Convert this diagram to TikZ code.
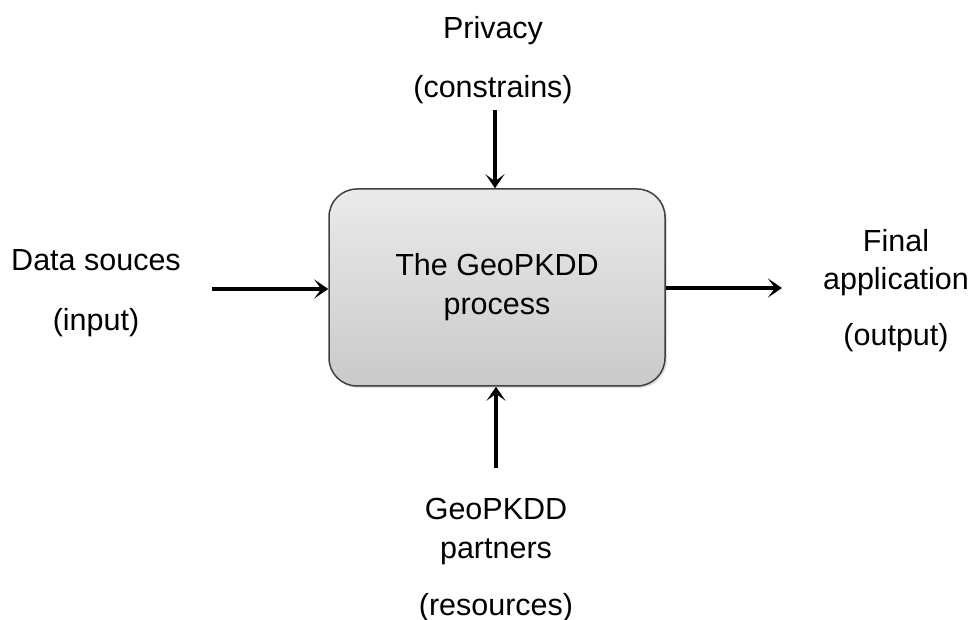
\documentclass[tikz,border=0pt]{standalone}
\usepackage{fontspec}
\setmainfont{Liberation Sans}
\usepackage{xcolor}
\usepackage{tikz}
\usetikzlibrary{arrows.meta, positioning, shadows}
\tikzstyle{process} = [rectangle, rounded corners=28pt, minimum width=336pt, minimum height=197pt, align=center, draw=black!75, line width=1.5pt, top color=gray!16, bottom color=gray!42, drop shadow={opacity=0.25, shadow xshift=2pt, shadow yshift=-2pt}]
\tikzstyle{label} = [align=center, anchor=base]
\tikzstyle{flow} = [line width=3.5pt, -{Stealth[length=14pt, width=19pt, inset=7pt]}]

\begin{document}
\begin{tikzpicture}[x=1pt, y=-1pt, font=\fontsize{30.5}{39}\selectfont]
    \useasboundingbox (0,0) rectangle (975,620);
    \node (box) [process] at (497,287.5) {The GeoPKDD\\process};
    \node (privacy) [label] at (493,98) {Privacy\\[20pt](constrains)};
    \node (input) [label] at (96,331) {Data souces\\[21pt](input)};
    \node (output) [label] at (896,346) {Final\\application\\[17pt](output)};
    \node (partners) [label] at (496,615) {GeoPKDD\\partners\\[18pt](resources)};
    \coordinate (inTail) at (212,289);
    \coordinate (outTip) at (782,288);
    \coordinate (topTail) at (495,110);
    \coordinate (botTail) at (496,468);
    \draw [flow] (inTail) -- (inTail -| box.west);
    \draw [flow] (outTip -| box.east) -- (outTip);
    \draw [flow] (topTail) -- (topTail |- box.north);
    \draw [flow] (botTail) -- (botTail |- box.south);
\end{tikzpicture}
\end{document}
